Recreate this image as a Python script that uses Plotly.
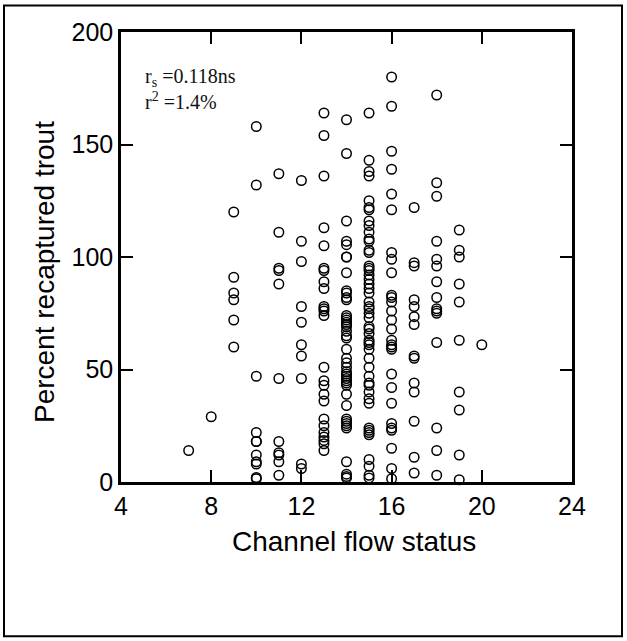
import plotly.graph_objects as go

# Percent recaptured trout for each channel flow status value
flow_levels = [7, 8, 9, 10, 11, 12, 13, 14, 15, 16, 17, 18, 19, 20]
recap_7 = [14]
recap_8 = [29]
recap_9 = [120, 91, 84, 81, 72, 60]
recap_10 = [158, 132, 47, 22, 18, 18, 12, 9, 8, 2, 1.5]
recap_11 = [137, 111, 95, 94, 88, 46, 18, 13, 12, 9, 3]
recap_12 = [134, 107, 98, 78, 71, 61, 56, 46, 8, 6]
recap_13 = [164, 154, 136, 113, 105, 95, 94, 89, 86, 78, 77, 76, 74,
            51, 45, 43, 39, 36, 28, 25, 22, 20, 18.5, 17, 14]
recap_14 = [161, 146, 116, 107, 105.5, 100, 100, 93, 85, 84, 82, 81, 74, 73,
            72, 71, 70, 69, 67, 65, 64, 59, 55, 53, 51, 49, 48, 47, 46, 45,
            44, 43, 39, 34, 28, 27, 26, 25, 24, 9, 3.5, 2.5, 1.8]
recap_15 = [164, 143, 138, 136, 125, 122, 121, 116, 114, 111, 108, 107, 103,
            102, 96, 95, 94, 92, 90, 88, 86, 84, 80, 78, 77, 75, 73, 69, 68,
            66, 63, 62, 61, 59, 55, 51, 47, 44, 43, 40, 37, 35, 24, 23, 22,
            21, 10, 7, 3, 1.8]
recap_16 = [180, 167, 147, 139, 128, 121, 102, 99, 93, 83, 82, 80, 76, 72,
            68, 63, 61, 60, 59, 48, 42, 35, 26, 24, 23, 15, 6, 1.5]
recap_17 = [122, 97.5, 96, 81, 78, 73.5, 70, 56, 55, 44, 40, 27, 11, 4]
recap_18 = [172, 133, 127, 107, 99, 96, 89, 82, 77, 76, 75, 62, 24, 14, 3]
recap_19 = [112, 103, 100, 88, 80, 63, 40, 32, 12, 1]
recap_20 = [61]

columns = [recap_7, recap_8, recap_9, recap_10, recap_11, recap_12, recap_13,
           recap_14, recap_15, recap_16, recap_17, recap_18, recap_19, recap_20]

xs, ys = [], []
for lvl, vals in zip(flow_levels, columns):
    xs.extend([lvl] * len(vals))
    ys.extend(vals)

x_ticks = [4, 8, 12, 16, 20, 24]
y_ticks = [0, 50, 100, 150, 200]
x_title = "Channel flow status"
y_title = "Percent recaptured trout"

fig = go.Figure()
fig.add_trace(go.Scatter(
    x=xs, y=ys, mode="markers",
    marker=dict(symbol="circle-open", size=9.5, color="black",
                line=dict(width=1.5, color="black")),
    showlegend=False, cliponaxis=False,
))

axis_common = dict(
    showline=True, linecolor="black", linewidth=2.5, mirror="allticks",
    ticks="inside", ticklen=12, tickwidth=2, tickcolor="black",
    showgrid=False, zeroline=False,
    tickfont=dict(family="Liberation Sans, Arial", size=25, color="black"),
)

fig.update_xaxes(range=[4, 24], tickvals=x_ticks, ticktext=[str(v) for v in x_ticks],
                 **axis_common)
fig.update_yaxes(range=[0, 200], tickvals=y_ticks, ticktext=[str(v) for v in y_ticks],
                 **axis_common)

# axis titles placed as annotations to match the reference positions
L, R, T, B = 121, 55, 31.5, 158.6
W, H = 627 - L - R, 641 - T - B
def px_x(p):
    return (p - L) / W
def px_y(p):
    return (641 - B - p) / H

title_font = dict(family="Liberation Sans, Arial", size=28, color="black")
fig.add_annotation(xref="paper", yref="paper", x=px_x(354), y=px_y(542),
                   xanchor="center", yanchor="middle", text=x_title,
                   showarrow=False, font=title_font)
fig.add_annotation(xref="paper", yref="paper", x=px_x(44), y=px_y(272),
                   xanchor="center", yanchor="middle", text=y_title, textangle=-90,
                   showarrow=False, font=title_font)

fig.add_annotation(xref="paper", yref="paper", x=0.049, y=0.899, xanchor="left", yanchor="middle",
                   text="r<sub>s</sub> =0.118ns", showarrow=False,
                   font=dict(family="Liberation Serif, Times New Roman", size=20, color="#111"))
fig.add_annotation(xref="paper", yref="paper", x=0.049, y=0.846, xanchor="left", yanchor="middle",
                   text="r<sup>2</sup> =1.4%", showarrow=False,
                   font=dict(family="Liberation Serif, Times New Roman", size=20, color="#111"))

# outer frame around the whole figure
fig.add_shape(type="rect", xref="paper", yref="paper",
              x0=px_x(4), x1=px_x(622), y0=px_y(637), y1=px_y(5),
              line=dict(color="black", width=2), layer="below")

fig.update_layout(
    width=627, height=641,
    margin=dict(l=L, r=R, t=T, b=B),
    paper_bgcolor="white", plot_bgcolor="white",
)

fig.write_html("out.html")
